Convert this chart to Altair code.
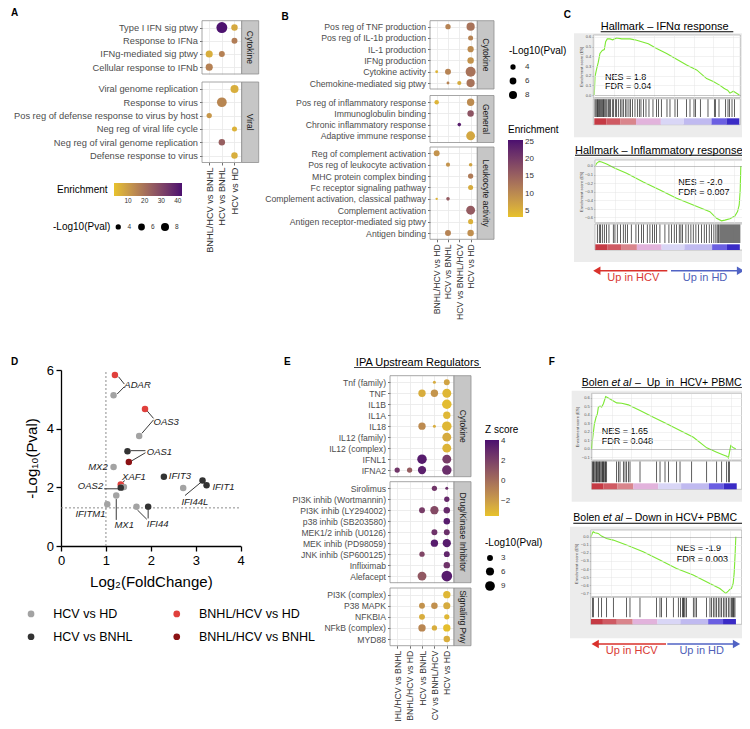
import altair as alt
import pandas as pd

M = 8
W, H = 734, 713
FONT = "Liberation Sans"
YEL, PUR = "#e8c22a", "#4b0f6f"
FRAME = "#8f8f8f"
STRIP = "#c6c6c6"
GRID = "#e9e9e9"
AX = "#4d4d4d"
GREEN = "#7de834"

# ---------------- Panel A data ----------------
A_comps = ["BNHL/HCV vs BNHL", "HCV vs BNHL", "HCV vs HD"]
A_cyto = ["Type I IFN sig ptwy", "Response to IFNa", "IFNg-mediated sig ptwy", "Cellular response to IFNb"]
A_viral = ["Viral genome replication", "Response to virus", "Pos reg of defense response to virus by host",
           "Neg reg of viral life cycle", "Neg reg of viral genome replication", "Defense response to virus"]
A_term = ["Type I IFN sig ptwy", "Type I IFN sig ptwy", "Response to IFNa", "IFNg-mediated sig ptwy",
          "IFNg-mediated sig ptwy", "Cellular response to IFNb", "Viral genome replication", "Response to virus",
          "Pos reg of defense response to virus by host", "Neg reg of viral life cycle",
          "Neg reg of viral genome replication", "Defense response to virus"]
A_comp = ["HCV vs BNHL", "HCV vs HD", "HCV vs HD", "BNHL/HCV vs BNHL", "HCV vs BNHL", "BNHL/HCV vs BNHL",
          "HCV vs HD", "HCV vs BNHL", "BNHL/HCV vs BNHL", "HCV vs HD", "HCV vs BNHL", "HCV vs HD"]
A_enrich = [42, 7, 17, 6, 16, 16, 6, 15, 11, 5, 24, 6]
A_nlp = [14.1, 5.5, 4.8, 6.5, 4.8, 6.5, 8.0, 11.4, 4.0, 3.7, 5.5, 5.5]

# ---------------- Panel B data ----------------
B_comps = ["BNHL/HCV vs HD", "HCV vs BNHL", "HCV vs BNHL/HCV", "HCV vs HD"]
B_cyto = ["Pos reg of TNF production", "Pos reg of IL-1b production", "IL-1 production", "IFNg production",
          "Cytokine activity", "Chemokine-mediated sig ptwy"]
B_gen = ["Pos reg of inflammatory response", "Immunoglobulin binding", "Chronic inflammatory response",
         "Adaptive immune response"]
B_leu = ["Reg of complement activation", "Pos reg of leukocyte activation", "MHC protein complex binding",
         "Fc receptor signaling pathway", "Complement activation, classical pathway", "Complement activation",
         "Antigen receptor-mediated sig ptwy", "Antigen binding"]
B_term = ["Pos reg of TNF production", "Pos reg of TNF production", "Pos reg of IL-1b production",
          "IL-1 production", "IFNg production", "Cytokine activity", "Cytokine activity", "Cytokine activity",
          "Chemokine-mediated sig ptwy", "Chemokine-mediated sig ptwy", "Chemokine-mediated sig ptwy",
          "Pos reg of inflammatory response", "Pos reg of inflammatory response", "Immunoglobulin binding",
          "Chronic inflammatory response", "Adaptive immune response", "Reg of complement activation",
          "Pos reg of leukocyte activation", "Pos reg of leukocyte activation", "MHC protein complex binding",
          "Fc receptor signaling pathway", "Complement activation, classical pathway",
          "Complement activation, classical pathway", "Complement activation",
          "Antigen receptor-mediated sig ptwy", "Antigen binding", "Antigen binding"]
B_comp = ["HCV vs BNHL", "HCV vs HD", "HCV vs HD", "HCV vs HD", "HCV vs HD", "BNHL/HCV vs HD", "HCV vs BNHL",
          "HCV vs HD", "HCV vs BNHL", "HCV vs BNHL/HCV", "HCV vs HD", "BNHL/HCV vs HD", "HCV vs HD", "HCV vs HD",
          "HCV vs BNHL/HCV", "HCV vs HD", "BNHL/HCV vs HD", "HCV vs BNHL", "HCV vs HD", "HCV vs HD", "HCV vs HD",
          "BNHL/HCV vs HD", "HCV vs BNHL", "HCV vs HD", "HCV vs HD", "HCV vs BNHL", "HCV vs HD"]
B_enrich = [11, 13, 11, 10, 9, 5, 11, 13, 11, 6, 13, 5, 10, 17, 24, 6.5, 9, 9, 7, 12, 6, 5, 16, 16, 5.5, 11, 9.5]
B_nlp = [4.0, 8.4, 3.7, 5.2, 5.5, 1.8, 4.8, 12.0, 1.8, 2.8, 8.4, 3.1, 6.9, 5.5, 2.3, 9.6, 4.8, 2.8, 2.3, 4.0,
         3.7, 1.5, 2.3, 9.6, 3.7, 4.8, 5.5]

# ---------------- Panel E data ----------------
E_comps = ["BNHL/HCV vs BNHL", "BNHL/HCV vs HD", "HCV vs BNHL", "HCV vs BNHL/HCV", "HCV vs HD"]
E_cyto = ["Tnf (family)", "TNF", "IL1B", "IL1A", "IL18", "IL12 (family)", "IL12 (complex)", "IFNL1", "IFNA2"]
E_drug = ["Sirolimus", "PI3K inhib (Wortmannin)", "PI3K inhib (LY294002)", "p38 inhib (SB203580)",
          "MEK1/2 inhib (U0126)", "MEK inhib (PD98059)", "JNK inhib (SP600125)", "Infliximab", "Alefacept"]
E_sig = ["PI3K (complex)", "P38 MAPK", "NFKBIA", "NFkB (complex)", "MYD88"]
E_term = ["Tnf (family)", "Tnf (family)", "TNF", "TNF", "TNF", "IL1B", "IL1A", "IL18", "IL18", "IL18",
          "IL12 (family)", "IL12 (complex)", "IFNL1", "IFNL1", "IFNA2", "IFNA2", "IFNA2", "IFNA2",
          "Sirolimus", "Sirolimus", "PI3K inhib (Wortmannin)", "PI3K inhib (LY294002)", "PI3K inhib (LY294002)",
          "PI3K inhib (LY294002)", "p38 inhib (SB203580)", "MEK1/2 inhib (U0126)", "MEK1/2 inhib (U0126)",
          "MEK inhib (PD98059)", "MEK inhib (PD98059)", "JNK inhib (SP600125)", "JNK inhib (SP600125)",
          "Infliximab", "Alefacept", "Alefacept",
          "PI3K (complex)", "P38 MAPK", "P38 MAPK", "P38 MAPK", "NFKBIA", "NFKBIA", "NFkB (complex)",
          "NFkB (complex)", "NFkB (complex)", "MYD88"]
E_comp = ["HCV vs BNHL/HCV", "HCV vs HD", "HCV vs BNHL", "HCV vs BNHL/HCV", "HCV vs HD", "HCV vs HD", "HCV vs HD",
          "HCV vs BNHL", "HCV vs BNHL/HCV", "HCV vs HD", "HCV vs HD", "HCV vs HD", "HCV vs BNHL", "HCV vs HD",
          "BNHL/HCV vs BNHL", "BNHL/HCV vs HD", "HCV vs BNHL", "HCV vs HD",
          "HCV vs BNHL/HCV", "HCV vs HD", "HCV vs HD", "HCV vs BNHL", "HCV vs BNHL/HCV", "HCV vs HD", "HCV vs HD",
          "HCV vs BNHL/HCV", "HCV vs HD", "HCV vs BNHL/HCV", "HCV vs HD", "HCV vs BNHL", "HCV vs HD", "HCV vs HD",
          "HCV vs BNHL", "HCV vs HD",
          "HCV vs HD", "HCV vs BNHL", "HCV vs BNHL/HCV", "HCV vs HD", "HCV vs BNHL", "HCV vs HD", "HCV vs BNHL",
          "HCV vs BNHL/HCV", "HCV vs HD", "HCV vs HD"]
E_z = [-2.5, -2.2, -2.6, -1.6, -3.0, -3.2, -3.0, -1.2, -2.6, -3.0, -2.5, -2.9, 3.6, 2.2, 2.5, 0.8, 3.4, 2.8,
       2.5, 2.8, 3.0, 2.2, 1.6, 3.0, 3.6, 2.6, 2.8, 3.6, 3.6, 1.8, 3.2, 2.6, 1.0, 3.6,
       -3.0, -1.5, -1.4, -2.5, -2.6, -3.0, -1.0, -2.6, -3.3, -2.6]
E_nlp = [0.4, 3.0, 4.9, 4.9, 7.4, 8.5, 4.9, 4.9, 0.4, 8.5, 7.4, 7.4, 8.5, 7.4, 2.3, 2.3, 6.3, 8.5,
         2.3, 0.4, 2.3, 3.0, 6.3, 3.7, 3.7, 3.0, 3.0, 4.9, 6.3, 2.3, 3.0, 3.7, 7.4, 10.8,
         4.9, 3.0, 3.7, 4.5, 3.0, 2.3, 4.9, 2.3, 4.9, 3.7]

# ---------------- Panel D data ----------------
D_order = ["HCV vs HD", "HCV vs BNHL", "BNHL/HCV vs HD", "BNHL/HCV vs BNHL"]
D_colors = ["#a3a3a3", "#333333", "#e0403c", "#8b1214"]
D_gene = ["ADAR", "ADAR", "OAS3", "OAS3", "OAS1", "OAS1", "MX2", "IFIT3", "XAF1", "XAF1", "OAS2", "OAS2",
          "IFIT1", "IFI44L", "IFI44L", "MX1", "IFITM1", "IFI44", "IFI44"]
D_comp = ["HCV vs HD", "BNHL/HCV vs HD", "HCV vs HD", "BNHL/HCV vs HD", "HCV vs BNHL", "BNHL/HCV vs BNHL",
          "HCV vs HD", "HCV vs BNHL", "HCV vs HD", "BNHL/HCV vs HD", "HCV vs HD", "HCV vs BNHL",
          "HCV vs BNHL", "HCV vs HD", "HCV vs BNHL", "HCV vs HD", "HCV vs HD", "HCV vs HD", "HCV vs BNHL"]
D_fc = [1.17, 1.20, 1.74, 1.87, 1.48, 1.51, 1.17, 2.29, 1.40, 1.33, 1.36, 1.33, 3.24, 2.72, 3.15, 1.23, 1.03,
        1.68, 1.94]
D_nlp = [5.14, 5.83, 3.75, 4.67, 3.23, 2.86, 2.69, 2.36, 2.01, 2.10, 2.00, 1.99, 2.07, 1.98, 2.23, 1.72, 1.42,
         1.34, 1.34]
D_lab_gene = ["ADAR", "OAS3", "OAS1", "XAF1", "IFIT3", "IFIT1", "IFI44L", "MX1", "IFI44", "MX2", "OAS2", "IFITM1"]
D_lab_x = [1.41, 2.06, 1.91, 1.36, 2.40, 3.37, 2.68, 1.19, 1.91, 1.04, 0.94, 0.99]
D_lab_y = [5.48, 4.24, 3.19, 2.35, 2.38, 2.02, 1.50, 0.72, 0.74, 2.70, 2.05, 1.09]
D_lab_side = ["left"] * 9 + ["right"] * 3
D_seg_x1 = [1.41, 1.41, 2.06, 2.06, 1.88, 1.88, 1.42, 0.96, 2.76, 1.23, 1.94, 1.70]
D_seg_y1 = [5.52, 5.43, 4.35, 4.30, 3.25, 3.18, 2.23, 1.95, 1.72, 1.60, 1.23, 1.23]
D_seg_x2 = [1.28, 1.25, 1.92, 1.80, 1.55, 1.57, 1.35, 1.33, 3.13, 1.23, 1.94, 1.91]
D_seg_y2 = [5.77, 5.18, 4.60, 3.84, 3.25, 2.90, 2.14, 1.95, 2.19, 0.89, 0.94, 0.91]
D_thr_x0, D_thr_x1 = [1, 0], [1, 4]
D_thr_y0, D_thr_y1 = [0, 1.3], [6, 1.3]

# ---------------- GSEA data (C and F) ----------------
RANK_TICKS = [0, 2000, 4000, 6000, 8000, 10000, 12000, 14000]
GRAD_START = [0, 1200, 2600, 4200, 6700, 9000, 11800, 13300]
GRAD_END = [1200, 2600, 4200, 6700, 9000, 11800, 13300, 14600]
GRAD_COLOR = ["#c53a44", "#cf5a63", "#d9858c", "#e2b3dc", "#d9d6f6", "#c0baf0", "#6b5fe2", "#3a2bc6"]

c1_rank = [0, 70, 235, 403, 570, 805, 1007, 1141, 1309, 1577, 1846, 2249, 2752, 3256, 3591, 4094, 4765, 5436,
           6275, 7282, 8289, 9296, 10303, 11310, 11981, 12652, 13055, 13222, 13424, 13659, 13995, 14163, 14600]
c1_es = [0.0, 0.19, 0.27, 0.34, 0.43, 0.46, 0.47, 0.55, 0.58, 0.58, 0.57, 0.59, 0.58, 0.58, 0.58, 0.57, 0.55,
         0.53, 0.48, 0.43, 0.37, 0.31, 0.26, 0.17, 0.14, 0.10, 0.07, 0.06, 0.05, 0.02, 0.04, 0.03, 0.0]
c1_hits = [67, 168, 269, 336, 436, 537, 604, 705, 806, 906, 974, 1074, 1175, 1276, 1410, 1511, 1645, 1813, 1947,
           2115, 2249, 2417, 2618, 2786, 2921, 3122, 3290, 3491, 3659, 3861, 4096, 4331, 4532, 4700, 4968, 5203,
           5505, 5908, 6278, 6479, 6748, 7318, 7620, 8124, 8359, 9299, 9635, 10037, 10205, 10675, 11447, 12085,
           12186, 12555, 13227, 13462, 13630, 13865, 14100]
c2_rank = [0, 135, 404, 639, 1144, 1985, 3163, 4846, 6528, 8211, 9893, 11576, 12249, 12753, 13090, 13595, 14099,
           14368, 14537, 14638, 14700]
c2_es = [0.0, 0.031, 0.054, 0.047, 0.023, -0.027, -0.086, -0.187, -0.28, -0.377, -0.455, -0.533, -0.611, -0.64,
         -0.632, -0.615, -0.584, -0.533, -0.455, -0.28, 0.0]
c2_hits = [202, 404, 538, 707, 909, 1144, 1380, 1817, 1985, 2221, 2557, 2827, 3029, 3264, 3634, 4105, 4375, 4677,
           4879, 5249, 5519, 5788, 5990, 6192, 6528, 7033, 7437, 7706, 7975, 8211, 8480, 8648, 8816, 9153, 9388,
           9658, 9893, 10162, 10432, 10735, 11004, 11239, 11508, 11744, 11979, 12181, 12316, 12451, 12585, 12686,
           12787, 12888, 12989, 13090, 13191, 13292, 13393, 13494, 13595, 13696, 13797, 13898, 13998, 14099,
           14200, 14301, 14402, 14503, 14604]
f1_rank = [0, 67, 168, 268, 436, 571, 671, 839, 1007, 1175, 1410, 1846, 2517, 3021, 3692, 4027, 4866, 6209, 7552,
           8894, 10237, 11580, 12587, 13258, 13594, 13762, 13997, 14266, 14501]
f1_es = [0.0, 0.094, 0.192, 0.29, 0.37, 0.41, 0.49, 0.50, 0.49, 0.53, 0.614, 0.586, 0.539, 0.535, 0.516, 0.496,
         0.449, 0.371, 0.293, 0.214, 0.136, 0.011, -0.04, -0.072, -0.088, -0.107, 0.038, 0.011, 0.0]
f1_hits = [63, 164, 232, 332, 433, 500, 567, 668, 769, 836, 937, 1037, 1104, 1171, 1239, 1339, 1406, 1507, 2513,
           2681, 2849, 3184, 3352, 3520, 3688, 3856, 4863, 6541, 6877, 7380, 7716, 8555, 8891, 10066, 11576,
           12583, 13087, 13590, 13758, 13859]
f2_rank = [0, 121, 222, 390, 725, 1061, 1565, 2236, 3578, 5257, 6935, 8613, 10291, 11970, 12977, 13581, 13816,
           13984, 14152, 14320, 14421, 14521, 14588]
f2_es = [0.0, 0.04, 0.062, 0.05, 0.041, 0.008, -0.021, -0.042, -0.103, -0.186, -0.289, -0.392, -0.475, -0.578,
         -0.64, -0.701, -0.673, -0.652, -0.64, -0.578, -0.454, -0.206, 0.0]
f2_hits = [135, 235, 739, 1074, 1578, 2249, 3592, 3927, 4934, 6612, 6948, 7116, 7619, 8291, 8794, 9029, 9231,
           9298, 9365, 9466, 9634, 10305, 10473, 10641, 11648, 11984, 12152, 12320, 12488, 12655, 12823, 12991,
           13159, 13327, 13495, 13662, 13830, 13998, 14166, 14266, 14334, 14401, 14502]

# ---------------- helpers ----------------
K = pd.DataFrame({"k": ["k"]})


def bscale(a, b):
    return alt.Scale(type="band", domain=["k"], range=[a - M, b - M], paddingInner=0, paddingOuter=0)


def box(x0, x1, y0, y1, **mk):
    return alt.Chart(K).mark_rect(**mk).encode(
        x=alt.X("k:N", scale=bscale(x0, x1), axis=None),
        y=alt.Y("k:N", scale=bscale(y0, y1), axis=None))


def at(cx, cy):
    return dict(x=alt.X("k:N", scale=bscale(cx, cx + 1), axis=None, bandPosition=0),
                y=alt.Y("k:N", scale=bscale(cy, cy + 1), axis=None, bandPosition=0))


def label(text, cx, cy, **mk):
    return alt.Chart(K).mark_text(text=text, **mk).encode(**at(cx, cy))


def dot_panel(df, comps, xr, xpad, strip, facets, lab_fs, xlab_fs, cscale, sscale, clegend, slegend):
    out = []
    for i, (fname, terms, yr, ypad) in enumerate(facets):
        sub = df[df["term"].isin(terms)]
        xsc = alt.Scale(type="point", domain=comps, range=[xr[0] - M, xr[1] - M], padding=xpad)
        ysc = alt.Scale(type="point", domain=terms, range=[yr[0] - M, yr[1] - M], padding=ypad)
        out.append(box(xr[0], xr[1], yr[0], yr[1], fill="transparent", stroke=FRAME, strokeWidth=0.8))
        out.append(box(strip[0], strip[1], yr[0], yr[1], fill=STRIP, stroke=FRAME, strokeWidth=0.8))
        out.append(label(fname, (strip[0] + strip[1]) / 2, (yr[0] + yr[1]) / 2, angle=90, fontSize=8.5,
                         color="#1a1a1a"))
        out.append(alt.Chart(sub).mark_circle(opacity=1).encode(
            x=alt.X("comp:N", scale=xsc, axis=alt.Axis(orient="top", grid=True, gridColor=GRID, gridWidth=0.8,
                                                       labels=False, ticks=False, domain=False, title=None)),
            y=alt.Y("term:N", scale=ysc, axis=alt.Axis(orient="left", offset=-(xr[0] - M), grid=True,
                                                       gridColor=GRID, gridWidth=0.8, domain=False, title=None,
                                                       labelFontSize=lab_fs, labelColor=AX, labelPadding=2,
                                                       labelLimit=400, tickSize=2.5, tickColor=AX,
                                                       tickWidth=0.8)),
            color=alt.Color("val:Q", scale=cscale, legend=clegend if i == 0 else None),
            size=alt.Size("nlp:Q", scale=sscale, legend=slegend if i == 0 else None)))
        if i == len(facets) - 1:
            out.append(alt.Chart(sub).mark_circle(opacity=0).encode(
                x=alt.X("comp:N", scale=xsc, axis=alt.Axis(orient="bottom", offset=(yr[1] - M) - H,
                                                           labelAngle=-90, labelFontSize=xlab_fs,
                                                           labelColor="#333333", labelPadding=2, labelLimit=300,
                                                           tickSize=2.5, tickColor=AX, tickWidth=0.8,
                                                           domain=False, grid=False, title=None))))
    return out


def leg(**kw):
    base = dict(orient="none", titleFontWeight="normal", titleColor="black", titleFontSize=10,
                labelColor="#333333", padding=0)
    base.update(kw)
    return alt.Legend(**base)


def gsea(g):
    out = []
    bx0, bx1, by0, by1 = g["box"]
    ax0, ax1, ay0, ay1 = g["area"]
    hy0, hy1 = g["hits"]
    gy0, gy1 = g["grad"]
    out.append(box(bx0, bx1, by0, by1, fill="#ececec"))
    out.append(box(ax0, ax1, ay0, ay1, fill="white", stroke="#a0a0a0", strokeWidth=0.6))
    out.append(box(ax0, ax1, hy0, gy1, fill="white", stroke="#a0a0a0", strokeWidth=0.6))

    def xs():
        return alt.Scale(domain=list(g["rdom"]), range=[g["rx"][0] - M, g["rx"][1] - M], zero=False, nice=False)

    curve = pd.DataFrame({"rank": g["rank"], "es": g["es"]})
    out.append(alt.Chart(curve).mark_line(color=GREEN, strokeWidth=1.1).encode(
        x=alt.X("rank:Q", scale=xs(), axis=alt.Axis(orient="top", grid=True, gridColor="#e4e4e4", gridWidth=0.5,
                                                   labels=False, ticks=False, domain=False, title=None,
                                                   values=RANK_TICKS, zindex=1)),
        y=alt.Y("es:Q", scale=alt.Scale(domain=list(g["edom"]), range=[ay1 - M, ay0 - M], zero=False, nice=False),
                axis=alt.Axis(orient="left", offset=-(ax0 - M), values=g["eticks"], format=".1f", labelFontSize=4,
                              labelColor="#555555", tickSize=1.5, tickColor="#999999", tickWidth=0.5,
                              labelPadding=1, domain=False, grid=True, minExtent=0,
                              gridColor={"condition": {"test": "abs(datum.value) < 1e-6", "value": "#8a8a8a"},
                                         "value": "#e4e4e4"},
                              gridWidth=0.5, title="Enrichment score (ES)", titleFontSize=4,
                              titleFontWeight="normal", titleColor="#444444", titlePadding=1.5, zindex=1))))
    hits = pd.DataFrame({"rank": g["hitr"], "k": "k"})
    out.append(alt.Chart(hits).mark_tick(color="black", thickness=0.7, size=hy1 - hy0 - 1, opacity=0.9).encode(
        x=alt.X("rank:Q", scale=xs(), axis=None),
        y=alt.Y("k:N", scale=bscale(hy0, hy1), axis=None)))
    grad = pd.DataFrame({"s": GRAD_START, "e": GRAD_END, "c": GRAD_COLOR, "k": "k"})
    out.append(alt.Chart(grad).mark_rect().encode(
        x=alt.X("s:Q", scale=xs(), axis=alt.Axis(orient="bottom", offset=(gy1 - M) - H, values=RANK_TICKS,
                                                format=",", labelFontSize=4, labelColor="#555555", tickSize=1.5,
                                                tickColor="#999999", tickWidth=0.5, labelPadding=0.5,
                                                labelFlush=False, domain=False, grid=False,
                                                title="Rank in Ordered Dataset", titleFontSize=4,
                                                titleFontWeight="normal", titleColor="#444444", titlePadding=1.5)),
        x2="e:Q",
        y=alt.Y("k:N", scale=bscale(gy0, gy1), axis=None),
        color=alt.Color("c:N", scale=None)))
    for txt, x, ital in g["title"]:
        out.append(label(txt, x, g["ty"], align="left", fontSize=g["tfs"],
                         fontStyle="italic" if ital else "normal"))
    ux0, ux1, uy = g["ul"]
    out.append(box(ux0, ux1, uy - 0.45, uy + 0.45, fill="black"))
    out.append(label(g["nes"][0], g["nx"], g["ny"][0], align="left", fontSize=9))
    out.append(label(g["nes"][1], g["nx"], g["ny"][1], align="left", fontSize=9))
    return out


def arrow(x0, x1, y, color, head):
    out = []
    if head == "left":
        out.append(box(x0 + 5, x1, y - 0.8, y + 0.8, fill=color))
        out.append(alt.Chart(K).mark_point(shape="triangle-left", filled=True, size=70, color=color,
                                           opacity=1).encode(**at(x0 + 3.5, y)))
    else:
        out.append(box(x0, x1 - 5, y - 0.8, y + 0.8, fill=color))
        out.append(alt.Chart(K).mark_point(shape="triangle-right", filled=True, size=70, color=color,
                                           opacity=1).encode(**at(x1 - 3.5, y)))
    return out


layers = []

# ---------------- Panel A ----------------
dfA = pd.DataFrame({"term": A_term, "comp": A_comp, "val": A_enrich, "nlp": A_nlp})
layers += dot_panel(
    dfA, A_comps, (202, 241.7), 0.57, (241.7, 258.7),
    [("Cytokine", A_cyto, (20.7, 74), 0.52), ("Viral", A_viral, (82, 162.5), 0.52)],
    9.3, 9.2,
    alt.Scale(domain=[1.5, 42.5], range=[YEL, PUR], interpolate="lab"),
    alt.Scale(domain=[4, 8], range=[28, 64], zero=False),
    leg(legendX=49, legendY=175, direction="horizontal", title="Enrichment", titleOrient="left", titlePadding=6,
        gradientLength=68, gradientThickness=13, labelFontSize=6.5, values=[10, 20, 30, 40],
        gradientStrokeWidth=0),
    leg(legendX=45, legendY=215, direction="horizontal", title="-Log10(Pval)", titleOrient="left",
        titlePadding=4, values=[4, 6, 8], labelFontSize=6.5, symbolFillColor="black", symbolStrokeColor="black",
        symbolStrokeWidth=0, symbolType="circle", labelOffset=6, columnPadding=6, symbolOpacity=1))

# ---------------- Panel B ----------------
dfB = pd.DataFrame({"term": B_term, "comp": B_comp, "val": B_enrich, "nlp": B_nlp})
layers += dot_panel(
    dfB, B_comps, (430, 477.3), 0.59, (477.3, 494),
    [("Cytokine", B_cyto, (20.7, 89), 0.53), ("General", B_gen, (95.5, 142.5), 0.6),
     ("Leukocyte activity", B_leu, (147, 239.3), 0.55)],
    8.7, 8.7,
    alt.Scale(domain=[3.3, 25.5], range=[YEL, PUR], interpolate="lab"),
    alt.Scale(domain=[4, 8], range=[28, 64], zero=False),
    leg(legendX=500, legendY=117, direction="vertical", title="Enrichment", titlePadding=5, gradientLength=77,
        gradientThickness=15, labelFontSize=8, values=[5, 10, 15, 20, 25], gradientStrokeWidth=0),
    leg(legendX=501, legendY=38, direction="vertical", title="-Log10(Pval)", titlePadding=7, values=[4, 6, 8],
        labelFontSize=8, symbolFillColor="black", symbolStrokeColor="black", symbolStrokeWidth=0,
        symbolType="circle", labelOffset=8, rowPadding=6, symbolOpacity=1))

# ---------------- Panel E ----------------
dfE = pd.DataFrame({"term": E_term, "comp": E_comp, "val": E_z, "nlp": E_nlp})
layers += dot_panel(
    dfE, E_comps, (390, 454), 0.58, (454, 471),
    [("Cytokine", E_cyto, (375.7, 476.7), 0.6), ("Drug/Kinase Inhibitor", E_drug, (481.7, 582.7), 0.6),
     ("Signaling Pwy", E_sig, (588, 645.7), 0.6)],
    8.6, 8.7,
    alt.Scale(domain=[-3.45, 4.07], range=[YEL, PUR], interpolate="lab"),
    alt.Scale(domain=[3, 9], range=[35, 95], zero=False),
    leg(legendX=477, legendY=417, direction="vertical", title="Z score", titlePadding=5, gradientLength=76,
        gradientThickness=14, labelFontSize=8, values=[-2, 0, 2, 4], gradientStrokeWidth=0),
    leg(legendX=477, legendY=530, direction="vertical", title="-Log10(Pval)", titlePadding=6, values=[3, 6, 9],
        labelFontSize=8, symbolFillColor="black", symbolStrokeColor="black", symbolStrokeWidth=0,
        symbolType="circle", labelOffset=6, rowPadding=5, symbolOpacity=1))
layers.append(label("IPA Upstream Regulators", 417.5, 363.3, fontSize=11))
layers.append(box(354, 481, 367.3, 368.1, fill="black"))


# ---------------- Panel D ----------------
def xD():
    return alt.Scale(domain=[0, 4], range=[61 - M, 240.7 - M], zero=False, nice=False)


def yD():
    return alt.Scale(domain=[0, 6], range=[546 - M, 370 - M], zero=False, nice=False)


dfThr = pd.DataFrame({"x0": D_thr_x0, "x1": D_thr_x1, "y0": D_thr_y0, "y1": D_thr_y1})
layers.append(alt.Chart(dfThr).mark_rule(color="#808080", strokeDash=[2, 2], strokeWidth=0.9).encode(
    x=alt.X("x0:Q", scale=xD(), axis=None), x2="x1:Q", y=alt.Y("y0:Q", scale=yD(), axis=None), y2="y1:Q"))
dfSeg = pd.DataFrame({"x1": D_seg_x1, "y1": D_seg_y1, "x2": D_seg_x2, "y2": D_seg_y2})
layers.append(alt.Chart(dfSeg).mark_rule(color="#222222", strokeWidth=0.9).encode(
    x=alt.X("x1:Q", scale=xD(), axis=None), x2="x2:Q", y=alt.Y("y1:Q", scale=yD(), axis=None), y2="y2:Q"))
dfD = pd.DataFrame({"gene": D_gene, "comp": D_comp, "fc": D_fc, "nlp": D_nlp})
layers.append(alt.Chart(dfD).mark_circle(opacity=1, size=42).encode(
    x=alt.X("fc:Q", scale=xD(), axis=alt.Axis(orient="bottom", offset=(546 - M) - H, values=[0, 1, 2, 3, 4],
                                              tickSize=5, tickWidth=1.3, tickColor="black", domainColor="black",
                                              domainWidth=1.3, labelFontSize=13, labelColor="black",
                                              labelPadding=3, labelFlush=False, grid=False,
                                              title="Log\u2082(FoldChange)", titleFontSize=15,
                                              titleFontWeight="normal", titleColor="black", titlePadding=7)),
    y=alt.Y("nlp:Q", scale=yD(), axis=alt.Axis(orient="left", offset=-(61 - M), values=[0, 2, 4, 6], tickSize=5,
                                               tickWidth=1.3, tickColor="black", domainColor="black",
                                               domainWidth=1.3, labelFontSize=13, labelColor="black",
                                               labelPadding=2.5, labelFlush=False, grid=False, minExtent=0,
                                               title="-Log\u2081\u2080(Pval)", titleFontSize=15,
                                               titleFontWeight="normal", titleColor="black", titlePadding=7)),
    color=alt.Color("comp:N", scale=alt.Scale(domain=D_order, range=D_colors),
                    legend=leg(legendX=16.8, legendY=599.5, columns=2, title=None, labelFontSize=12.5,
                               labelColor="black", symbolSize=45, symbolType="circle", symbolStrokeWidth=0,
                               labelOffset=16, columnPadding=37.7, rowPadding=10, symbolOpacity=1))))
dfL = pd.DataFrame({"gene": D_lab_gene, "x": D_lab_x, "y": D_lab_y, "side": D_lab_side})
for side in ["left", "right"]:
    layers.append(alt.Chart(dfL[dfL.side == side]).mark_text(align=side, fontStyle="italic", fontSize=9.5,
                                                             color="#222222").encode(
        x=alt.X("x:Q", scale=xD(), axis=None), y=alt.Y("y:Q", scale=yD(), axis=None), text="gene:N"))

# ---------------- Panels C and F (GSEA) ----------------
ES_UP = [0.0, 0.1, 0.2, 0.3, 0.4, 0.5, 0.6]
GSEAS = [
    dict(box=(574, 745, 33.3, 137.3), area=(593.3, 740.3, 35, 97.5), rdom=(0, 14700), rx=(594.3, 740.3),
         edom=(-0.025, 0.62), eticks=ES_UP, hits=(98.8, 117.6), grad=(118.3, 124.7),
         rank=c1_rank, es=c1_es, hitr=c1_hits, tfs=11,
         title=[("Hallmark \u2013 IFN\u03b1 response", 600.7, False)], ty=26.5, ul=(600.7, 733.3, 31.8),
         nes=("NES = 1.8", "FDR = 0.04"), nx=605, ny=(76.7, 86)),
    dict(box=(574, 748, 157, 262), area=(595, 742.7, 160, 222.7), rdom=(0, 14900), rx=(595.3, 742.8),
         edom=(-0.662, 0.07), eticks=[0.0, -0.1, -0.2, -0.3, -0.4, -0.5, -0.6], hits=(224, 243.6),
         grad=(244.3, 250), rank=c2_rank, es=c2_es, hitr=c2_hits, tfs=11,
         title=[("Hallmark \u2013 Inflammatory response", 575, False)], ty=150.5, ul=(575, 748, 155.2),
         nes=("NES = -2.0", "FDR = 0.007"), nx=678.3, ny=(181.7, 191.7)),
    dict(box=(571.7, 744, 390.7, 501.7), area=(591.7, 741.7, 393.3, 460), rdom=(0, 15100), rx=(591.7, 741.7),
         edom=(-0.132, 0.652), eticks=[-0.1] + ES_UP, hits=(461, 482.7), grad=(483.3, 489.3),
         rank=f1_rank, es=f1_es, hitr=f1_hits, tfs=10.5,
         title=[("Bolen", 581.7, False), ("et al", 611.4, True),
                ("\u2013 \u00a0Up \u00a0in \u00a0HCV+ PBMC", 635, False)],
         ty=383.3, ul=(581.7, 749.3, 387.6), nes=("NES = 1.65", "FDR = 0.048"), nx=601.7, ny=(430.7, 440.7)),
    dict(box=(570, 745, 526.7, 638.3), area=(590.7, 741.7, 530, 596.7), rdom=(-30, 15180), rx=(590.7, 741.7),
         edom=(-0.742, 0.083), eticks=[0.0, -0.1, -0.2, -0.3, -0.4, -0.5, -0.6, -0.7], hits=(597.3, 617.7),
         grad=(619, 624.3), rank=f2_rank, es=f2_es, hitr=f2_hits, tfs=10.5,
         title=[("Bolen", 573.3, False), ("et al", 603, True), ("\u2013 Down in HCV+ PBMC", 626, False)],
         ty=518.3, ul=(573.3, 748.3, 523.3), nes=("NES = -1.9", "FDR = 0.003"), nx=676.7, ny=(548.3, 559)),
]
for g in GSEAS:
    layers += gsea(g)

RED_A, BLUE_A = "#d9312b", "#5163c4"
for (y_arrow, y_text, rx0, rx1, bx0, bx1, tx_r, tx_b) in [(270.7, 277.6, 593.3, 667.3, 671, 744, 633.3, 705),
                                                           (644, 651, 591.7, 666, 667.3, 740, 631.7, 701.7)]:
    layers += arrow(rx0, rx1, y_arrow, RED_A, "left")
    layers += arrow(bx0, bx1, y_arrow, BLUE_A, "right")
    layers.append(label("Up in HCV", tx_r, y_text, fontSize=11, color="#d93a34"))
    layers.append(label("Up in HD", tx_b, y_text, fontSize=11, color="#4f5fb8"))

# ---------------- panel letters ----------------
for letter, lx, ly in [("A", 14.5, 13), ("B", 285, 17), ("C", 567.3, 15), ("D", 14.5, 361.7),
                       ("E", 287.3, 362.3), ("F", 551.7, 362.3)]:
    layers.append(label(letter, lx, ly, fontSize=10, fontWeight="bold"))

chart = alt.layer(*layers).resolve_scale(
    x="independent", y="independent", color="independent", size="independent"
).resolve_axis(x="independent", y="independent").resolve_legend(
    color="independent", size="independent"
).properties(
    width=W, height=H, padding=0, autosize=alt.AutoSizeParams(type="none")
).configure(font=FONT).configure_view(stroke=None)

chart.save("out.html", embed_options={"renderer": "svg", "actions": False})
